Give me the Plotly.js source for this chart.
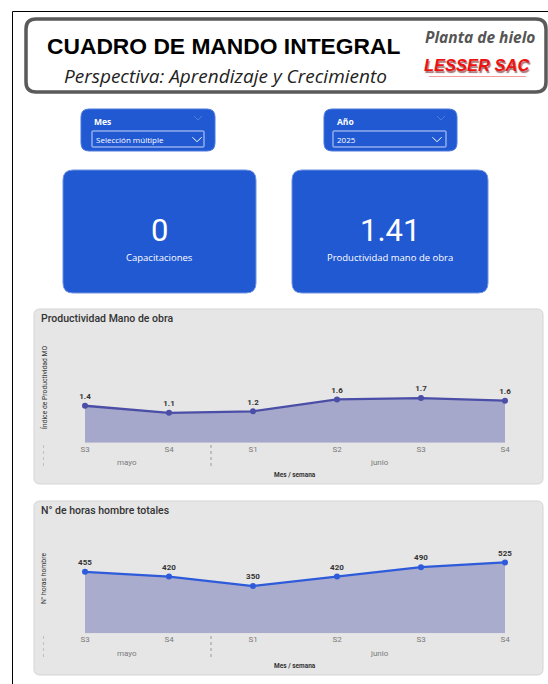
<!DOCTYPE html>
<html><head><meta charset="utf-8">
<script src="https://cdn.plot.ly/plotly-3.0.1.min.js"></script>
<style>html,body{margin:0;padding:0;background:#fff}#chart{width:548px;height:684px}</style>
</head><body><div id="chart"></div>
<script>
// ---- data ----
const months = ['mayo','mayo','junio','junio','junio','junio'];
const weeks = ['S3','S4','S1','S2','S3','S4'];
const productividad = [1.40, 1.13, 1.19, 1.64, 1.69, 1.59];
const horasHombre = [455, 420, 350, 420, 490, 525];
const kpiCapacitaciones = 0;
const kpiProductividad = 1.41;
const mesSeleccion = 'Selección múltiple';
const anioSeleccion = '2025';
const titulo = 'CUADRO DE MANDO INTEGRAL';
const subtitulo = 'Perspectiva: Aprendizaje y Crecimiento';
const empresa = 'LESSER SAC';

// ---- helpers (pixel -> paper) ----
const W = 548, H = 684;
const X = p => p / W;
const Y = p => 1 - p / H;
function rr(x0, y0, x1, y1, r) {
  const P = (x, y) => X(x).toFixed(5) + ',' + Y(y).toFixed(5);
  return 'M' + P(x0 + r, y0) + ' L' + P(x1 - r, y0) + ' Q' + P(x1, y0) + ' ' + P(x1, y0 + r) +
    ' L' + P(x1, y1 - r) + ' Q' + P(x1, y1) + ' ' + P(x1 - r, y1) +
    ' L' + P(x0 + r, y1) + ' Q' + P(x0, y1) + ' ' + P(x0, y1 - r) +
    ' L' + P(x0, y0 + r) + ' Q' + P(x0, y0) + ' ' + P(x0 + r, y0) + ' Z';
}
function box(x0, y0, x1, y1, r, fill, lineColor, lw) {
  return {type: 'path', xref: 'paper', yref: 'paper', path: rr(x0, y0, x1, y1, r),
    fillcolor: fill, line: {color: lineColor, width: lw}, layer: 'below'};
}
function seg(x0, y0, x1, y1, color, w, dash) {
  return {type: 'line', xref: 'paper', yref: 'paper', x0: X(x0), y0: Y(y0), x1: X(x1), y1: Y(y1),
    line: {color: color, width: w, dash: dash || 'solid'}, layer: 'above'};
}
function chev(cx, cy, s, color) {
  return {type: 'path', xref: 'paper', yref: 'paper',
    path: 'M' + X(cx - s) + ',' + Y(cy - s / 2) + ' L' + X(cx) + ',' + Y(cy + s / 2) + ' L' + X(cx + s) + ',' + Y(cy - s / 2),
    line: {color: color, width: 1}, layer: 'above'};
}
function ann(x, y, text, font, extra) {
  return Object.assign({xref: 'paper', yref: 'paper', x: X(x), y: Y(y), text: text, showarrow: false,
    font: font, xanchor: 'center', yanchor: 'middle', borderpad: 0}, extra || {});
}

// category keys (unique per month/week) and month groups
const keys = months.map((m, i) => m + ' ' + weeks[i]);
const groups = [];
months.forEach((m, i) => {
  const g = groups.find(gr => gr.name === m);
  if (g) g.last = i; else groups.push({name: m, first: i, last: i});
});

const BLUE = '#2159d3';
const dom = [43, 547];
const base1 = 442.7, top1 = 340;
const base2 = 633.3, top2 = 530;

const shapes = [
  // outer frame
  seg(12.5, 684, 12.5, 11.5, '#000', 1), seg(12.5, 11.5, 548, 11.5, '#000', 1),
  // header
  box(26, 19, 546, 92, 10, '#ffffff', '#5a5a5a', 3.5),
  seg(429, 76.5, 526, 76.5, 'rgba(230,30,30,0.45)', 1.2),
  // slicers
  box(81, 109, 215, 151, 8, BLUE, '#4a78dc', 1),
  box(92, 131, 204, 147, 0.5, 'rgba(0,0,0,0)', '#c9d6f5', 1),
  chev(197, 139.5, 4.5, '#ffffff'), chev(198, 118, 4, '#4f7bdc'),
  box(324, 109, 457, 151, 8, BLUE, '#4a78dc', 1),
  box(333, 131, 446, 147, 0.5, 'rgba(0,0,0,0)', '#c9d6f5', 1),
  chev(437, 139.5, 4.5, '#ffffff'), chev(441, 118, 4, '#4f7bdc'),
  // cards
  box(63, 170, 256, 293, 10, BLUE, '#6f93e0', 1),
  box(292, 170, 488, 293, 10, BLUE, '#6f93e0', 1),
  // chart panels
  box(34, 309, 543, 484, 6, '#e6e6e6', '#d5d5d5', 1),
  box(34, 501, 543, 675, 6, '#e6e6e6', '#d5d5d5', 1)
];
// dotted month dividers at the start of each month group
[['x', 445, 468], ['x2', 636, 660]].forEach(([xr, ya, yb]) => {
  groups.forEach(g => {
    shapes.push({type: 'line', xref: xr, yref: 'paper', x0: g.first - 0.5, x1: g.first - 0.5,
      y0: Y(ya), y1: Y(yb), line: {color: '#9a9a9a', width: 1, dash: 'dot'}, layer: 'above'});
  });
});

const annotations = [
  ann(223.5, 45.5, titulo, {family: 'Liberation Sans, Arial', size: 22.8, color: '#000', weight: 'bold'}),
  ann(225.5, 75.5, subtitulo, {family: 'Open Sans', size: 19, color: '#222', style: 'italic'}),
  ann(479.5, 37, 'Planta de hielo', {family: 'Open Sans', size: 15.5, color: '#555', style: 'italic', weight: 'bold'}),
  ann(477.5, 65, empresa, {family: 'Liberation Sans, Arial', size: 16.5, color: '#ee1111', style: 'italic', weight: 'bold', shadow: '1px 1.5px 1px rgba(90,0,0,0.55)'}),
  // slicers
  ann(93, 121, 'Mes', {family: 'Open Sans', size: 8.5, color: '#fff', weight: 'bold'}, {xanchor: 'left'}),
  ann(95, 139.5, mesSeleccion, {family: 'Open Sans', size: 8, color: '#fff'}, {xanchor: 'left'}),
  ann(336, 121, 'Año', {family: 'Open Sans', size: 8.5, color: '#fff', weight: 'bold'}, {xanchor: 'left'}),
  ann(336, 139.5, anioSeleccion, {family: 'Open Sans', size: 8, color: '#fff'}, {xanchor: 'left'}),
  // cards
  ann(159.5, 230, String(kpiCapacitaciones), {family: 'Roboto', size: 31, color: '#fff'}),
  ann(159.5, 257, 'Capacitaciones', {family: 'Open Sans', size: 9.5, color: '#fff'}),
  ann(390, 230, kpiProductividad.toFixed(2), {family: 'Roboto', size: 31, color: '#fff'}),
  ann(390, 257, 'Productividad mano de obra', {family: 'Open Sans', size: 9.5, color: '#fff'}),
  // chart 1 titles
  ann(40, 318, 'Productividad Mano de obra', {family: 'Roboto', size: 10.5, color: '#333', weight: 500}, {xanchor: 'left'}),
  ann(44, 388, 'Índice de Productividad MO', {family: 'Roboto', size: 6.8, color: '#333'}, {textangle: -90}),
  ann((dom[0] + dom[1]) / 2, 475, 'Mes / semana', {family: 'Roboto', size: 6.5, color: '#333', weight: 'bold'}),
  // chart 2 titles
  ann(40, 510, 'N° de horas hombre totales', {family: 'Roboto', size: 10.5, color: '#333', weight: 500}, {xanchor: 'left'}),
  ann(44, 579, 'N° horas hombre', {family: 'Roboto', size: 6.8, color: '#333'}, {textangle: -90}),
  ann((dom[0] + dom[1]) / 2, 666, 'Mes / semana', {family: 'Roboto', size: 6.5, color: '#333', weight: 'bold'})
];
// month labels centred under each group
[['x', 462], ['x2', 653]].forEach(([xr, yy]) => {
  groups.forEach(g => {
    annotations.push({xref: xr, yref: 'paper', x: (g.first + g.last) / 2, y: Y(yy), text: g.name,
      showarrow: false, xanchor: 'center', yanchor: 'middle', borderpad: 0,
      font: {family: 'Roboto', size: 8, color: '#7a7a7a'}});
  });
});

const xBase = {type: 'category', range: [-0.5, keys.length - 0.5], showgrid: false, zeroline: false, showline: false,
  ticks: '', tickmode: 'array', tickvals: keys, ticktext: weeks,
  tickfont: {family: 'Roboto', size: 8, color: '#7a7a7a'}, fixedrange: true};
const yBase = {showgrid: false, zeroline: false, showline: false, showticklabels: false, ticks: '', fixedrange: true};

const traces = [
  {x: keys, y: productividad, xaxis: 'x', yaxis: 'y', type: 'scatter',
   mode: 'lines+markers+text', fill: 'tozeroy', fillcolor: 'rgb(165,167,203)',
   line: {color: '#4b4ea6', width: 2.3}, marker: {size: 6, color: '#4b4ea6'},
   texttemplate: '%{y:.1f}', textposition: 'top center',
   textfont: {family: 'Roboto', size: 8, color: '#333', weight: 'bold'}, cliponaxis: false, hoverinfo: 'skip'},
  {x: keys, y: horasHombre, xaxis: 'x2', yaxis: 'y2', type: 'scatter',
   mode: 'lines+markers+text', fill: 'tozeroy', fillcolor: 'rgb(170,172,206)',
   line: {color: '#2d5bd9', width: 2.3}, marker: {size: 6, color: '#2d5bd9'},
   texttemplate: '%{y}', textposition: 'top center',
   textfont: {family: 'Roboto', size: 8, color: '#333', weight: 'bold'}, cliponaxis: false, hoverinfo: 'skip'}
];

const layout = {
  width: W, height: H, margin: {l: 0, r: 0, t: 0, b: 0}, showlegend: false,
  paper_bgcolor: '#ffffff', plot_bgcolor: 'rgba(0,0,0,0)',
  xaxis: Object.assign({}, xBase, {domain: [X(dom[0]), X(dom[1])], anchor: 'y'}),
  yaxis: Object.assign({}, yBase, {domain: [Y(base1), Y(top1)], range: [0, 3.89], anchor: 'x'}),
  xaxis2: Object.assign({}, xBase, {domain: [X(dom[0]), X(dom[1])], anchor: 'y2'}),
  yaxis2: Object.assign({}, yBase, {domain: [Y(base2), Y(top2)], range: [0, 765], anchor: 'x2'}),
  shapes: shapes, annotations: annotations
};

Plotly.newPlot('chart', traces, layout, {displayModeBar: false, staticPlot: true});
</script>
</body></html>
